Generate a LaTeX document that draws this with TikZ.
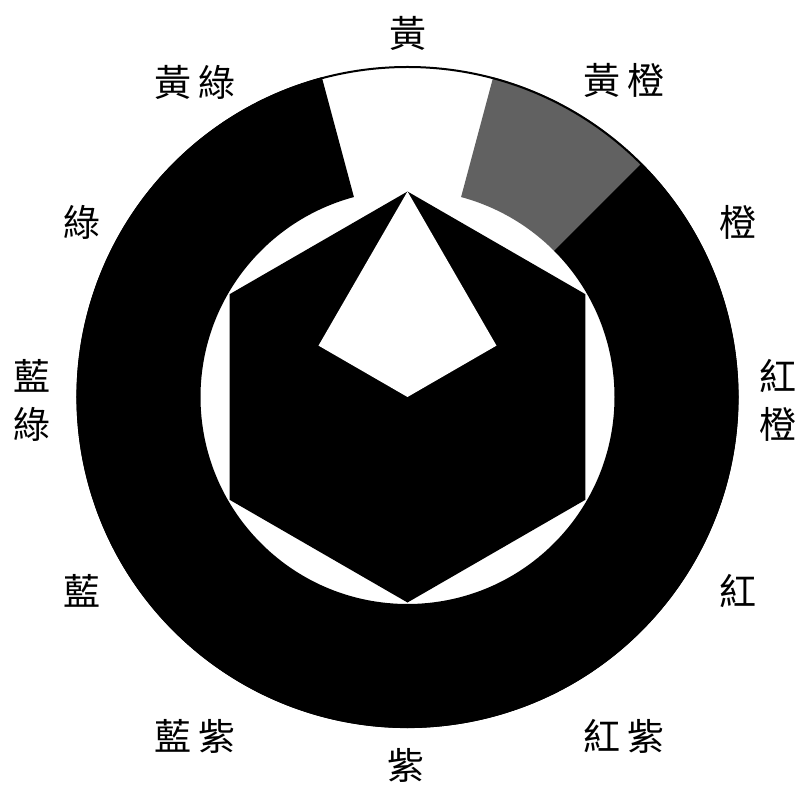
\documentclass[tikz,border=0pt]{standalone}
\usepackage{fontspec}
\newfontfamily\cjk{Noto Sans CJK TC}
\begin{document}
\begin{tikzpicture}[x=1pt,y=1pt,
  lbl/.style={inner sep=0pt, font=\cjk\fontsize{37}{48}\selectfont, align=center},
  ringfill/.style={fill=black},
  graysect/.style={fill=black!62}]
\useasboundingbox[fill=white] (-407.5,-389) rectangle (394.5,397);
\def\Ro{331}
\def\Ri{207}
\def\Rh{205.5}
% outer ring (black part)
\fill[ringfill] (105:\Ro) arc[start angle=105,end angle=405,radius=\Ro]
  -- (45:\Ri) arc[start angle=45,end angle=-255,radius=\Ri] -- cycle;
% yellow-orange (gray) sector
\fill[graysect] (45:\Ro) arc[start angle=45,end angle=75,radius=\Ro]
  -- (75:\Ri) arc[start angle=75,end angle=45,radius=\Ri] -- cycle;
% outer outline
\draw[line width=2pt] (0,0) circle[radius=330];
% hexagon
\fill[black] (90:\Rh) -- (150:\Rh) -- (210:\Rh) -- (270:\Rh) -- (330:\Rh) -- (30:\Rh) -- cycle;
% white kite
\fill[white] (0,0) -- (150:0.5*\Rh) -- (90:\Rh) -- (30:0.5*\Rh) -- cycle;
% labels
\node[lbl] (y)  at (0.5,364) {黃};
\node[lbl] (yg) at (-212.5,315) {黃\kern7pt綠};
\node[lbl] (yo) at (216.5,317) {黃\kern7pt橙};
\node[lbl] (g)  at (-325.5,175) {綠};
\node[lbl] (o)  at (330.5,175) {橙};
\node[lbl] (bg) at (-375.5,-3) {藍\\綠};
\node[lbl] (ro) at (370.5,-3) {紅\\橙};
\node[lbl] (b)  at (-325.5,-194) {藍};
\node[lbl] (r)  at (330.5,-194) {紅};
\node[lbl] (bv) at (-212.5,-339) {藍\kern7pt紫};
\node[lbl] (rv) at (216.5,-339) {紅\kern7pt紫};
\node[lbl] (v)  at (-1.5,-368) {紫};
\end{tikzpicture}
\end{document}
